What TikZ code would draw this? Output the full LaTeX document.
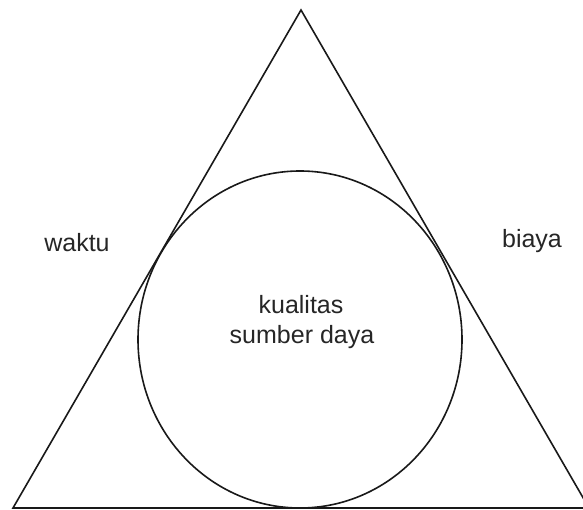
\documentclass[tikz,border=0pt]{standalone}
\usepackage{fontspec}
\setmainfont{Liberation Sans}
\begin{document}
\begin{tikzpicture}[x=1pt,y=-1pt,
  shape line/.style={draw=black!90, line width=1.6pt, line join=miter},
  lbl/.style={font=\fontsize{25}{30}\selectfont, text=black!85, inner sep=0pt, anchor=base}]
\clip (0,0) rectangle (583,510);
\useasboundingbox (0,0) rectangle (583,510);
\coordinate (A) at (301,10);
\coordinate (B) at (13,508);
\coordinate (C) at (589,508);
\draw[shape line] (A) -- (B) -- (C) -- cycle;
\coordinate (O) at (300,339.5);
\draw[shape line] (O) ellipse [x radius=162, y radius=168.5];
\node[lbl] (waktu) at (77,252) {waktu};
\node[lbl] (biaya) at (532,248) {biaya};
\node[lbl] (kual) at (301,313) {kualitas};
\node[lbl] (sd) at (302,343) {sumber daya};
\end{tikzpicture}
\end{document}
